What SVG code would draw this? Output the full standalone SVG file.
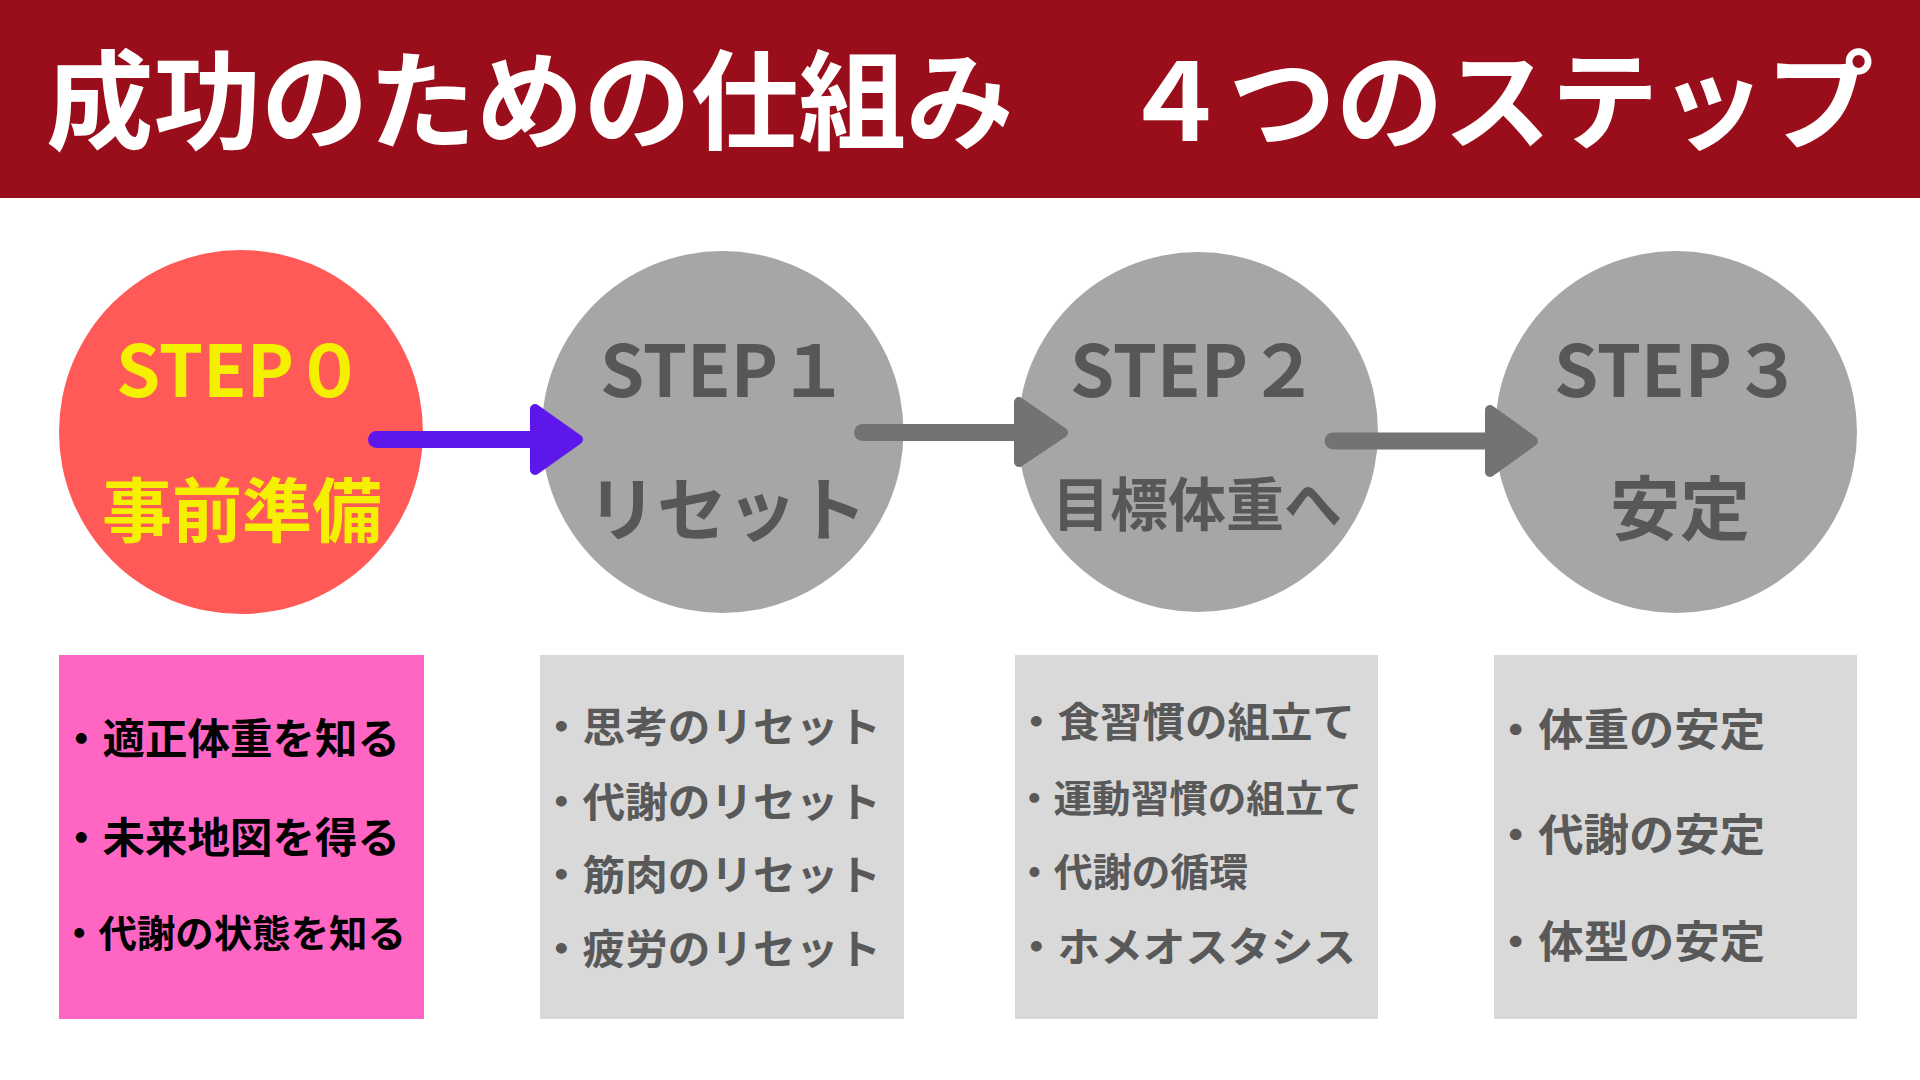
<svg xmlns="http://www.w3.org/2000/svg" width="1920" height="1080" viewBox="0 0 1920 1080">
<style>
text{font-family:"Noto Sans CJK JP","Noto Sans",sans-serif;font-weight:700}
.title{fill:#ffffff;font-size:107.5px}
.step{font-size:71px}
.lbl{text-anchor:middle}
.gray{fill:#575757}
.yel{fill:#f5ef00}
.cg{fill:#a6a6a6}
.bx{fill:#d9d9d9}
.item{fill:#595959}
.item0{fill:#000000}
.shaft{stroke-width:17;stroke-linecap:round;fill:none}
.head{stroke-width:10;stroke-linejoin:round}
</style>
<rect x="0" y="0" width="1920" height="1080" fill="#ffffff"/>
<g id="title">
<rect x="0" y="0" width="1920" height="198" fill="#990e1a"/>
<text class="title" x="46" y="141">成功のための仕組み　４つのステップ</text>
</g>
<g id="step0">
<circle cx="241" cy="432" r="182" fill="#ff5a57"/>
<text class="step yel" x="116" y="397">STEP０</text>
<text class="lbl yel" x="242" y="537" font-size="70">事前準備</text>
</g>
<g id="step1">
<circle cx="722.5" cy="432" r="181" class="cg"/>
<text class="step gray" x="600" y="397">STEP１</text>
<text class="lbl gray" x="727" y="536" font-size="70">リセット</text>
</g>
<g id="step2">
<circle cx="1198" cy="432" r="180" class="cg"/>
<text class="step gray" x="1070" y="397">STEP２</text>
<text class="lbl gray" x="1197" y="526" font-size="58">目標体重へ</text>
</g>
<g id="step3">
<circle cx="1676" cy="432" r="181" class="cg"/>
<text class="step gray" x="1554" y="397">STEP３</text>
<text class="lbl gray" x="1680" y="535" font-size="70">安定</text>
</g>
<g id="box0">
<rect x="59" y="655" width="365" height="364" fill="#ff66c4"/>
<text class="item0" x="60" y="754" font-size="42" textLength="340" lengthAdjust="spacingAndGlyphs">・適正体重を知る</text>
<text class="item0" x="60" y="853" font-size="42" textLength="340" lengthAdjust="spacingAndGlyphs">・未来地図を得る</text>
<text class="item0" x="60" y="947" font-size="38" textLength="346" lengthAdjust="spacingAndGlyphs">・代謝の状態を知る</text>
</g>
<g id="box1">
<rect x="540" y="655" width="364" height="364" class="bx"/>
<text class="item" x="540" y="742" font-size="41" textLength="341" lengthAdjust="spacingAndGlyphs">・思考のリセット</text>
<text class="item" x="540" y="817" font-size="41" textLength="341" lengthAdjust="spacingAndGlyphs">・代謝のリセット</text>
<text class="item" x="540" y="890" font-size="41" textLength="341" lengthAdjust="spacingAndGlyphs">・筋肉のリセット</text>
<text class="item" x="540" y="964" font-size="41" textLength="341" lengthAdjust="spacingAndGlyphs">・疲労のリセット</text>
</g>
<g id="box2">
<rect x="1015" y="655" width="363" height="364" class="bx"/>
<text class="item" x="1015" y="737" font-size="41" textLength="340" lengthAdjust="spacingAndGlyphs">・食習慣の組立て</text>
<text class="item" x="1015" y="812" font-size="38" textLength="347" lengthAdjust="spacingAndGlyphs">・運動習慣の組立て</text>
<text class="item" x="1015" y="886" font-size="39" textLength="233" lengthAdjust="spacingAndGlyphs">・代謝の循環</text>
<text class="item" x="1015" y="962" font-size="41" textLength="341" lengthAdjust="spacingAndGlyphs">・ホメオスタシス</text>
</g>
<g id="box3">
<rect x="1494" y="655" width="363" height="364" class="bx"/>
<text class="item" x="1493" y="746" font-size="44" textLength="272" lengthAdjust="spacingAndGlyphs">・体重の安定</text>
<text class="item" x="1493" y="851" font-size="44" textLength="272" lengthAdjust="spacingAndGlyphs">・代謝の安定</text>
<text class="item" x="1493" y="958" font-size="44" textLength="272" lengthAdjust="spacingAndGlyphs">・体型の安定</text>
</g>
<g id="connectors">
<line class="shaft" x1="376.5" y1="439.5" x2="540" y2="439.5" stroke="#5e17eb"/>
<polygon class="head" points="535,409 535,470 578,439.5" fill="#5e17eb" stroke="#5e17eb"/>
<line class="shaft" x1="862.5" y1="432.5" x2="1022" y2="432.5" stroke="#737373"/>
<polygon class="head" points="1019,402 1019,462 1063,432.5" fill="#737373" stroke="#737373"/>
<line class="shaft" x1="1333" y1="441" x2="1492" y2="441" stroke="#737373" stroke-width="18"/>
<polygon class="head" points="1490,410 1490,472 1533,441" fill="#737373" stroke="#737373"/>
</g>
</svg>
